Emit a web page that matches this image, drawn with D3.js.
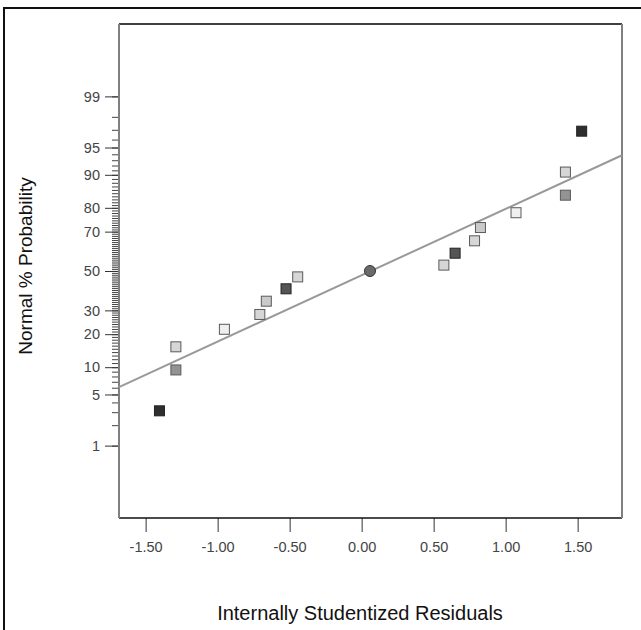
<!DOCTYPE html>
<html><head><meta charset="utf-8">
<script src="https://cdn.jsdelivr.net/npm/d3@7"></script>
<style>body{margin:0;background:#fff;} svg{display:block;font-family:Arial,"Liberation Sans",sans-serif;}</style>
</head><body><svg id="c" width="641" height="630"></svg>
<script>
// ---- data ----
const residuals = [-1.404,-1.290,-1.290,-0.953,-0.707,-0.662,-0.525,-0.444,0.571,0.649,0.784,0.825,1.072,1.415,1.415,1.528];
const probabilities = [3.125,9.375,15.625,21.875,28.125,34.375,40.625,46.875,53.125,59.375,65.625,71.875,78.125,84.375,90.625,96.875];
const levels = [0,3,5,6,5,4,1,5,5,1,5,4,6,3,5,0];
const centerX = [0.058];
const centerP = [50];
const fitX = [-1.685, 1.808];
const fitP = [6.1, 93.85];
const xTicks = [-1.5,-1.0,-0.5,0.0,0.5,1.0,1.5];
const yMajorTicks = [1,5,10,20,30,50,70,80,90,95,99];
const yMinorTicks = d3.range(1,100);
const xDomain = [-1.685, 1.808];
const pDomain = [0.05, 99.95];

function probit(p){
 const a=[-3.969683028665376e+01,2.209460984245205e+02,-2.759285104469687e+02,1.383577518672690e+02,-3.066479806614716e+01,2.506628277459239e+00];
 const b=[-5.447609879822406e+01,1.615858368580409e+02,-1.556989798598866e+02,6.680131188771972e+01,-1.328068155288572e+01];
 const c=[-7.784894002430293e-03,-3.223964580411365e-01,-2.400758277161838e+00,-2.549732539343734e+00,4.374664141464968e+00,2.938163982698783e+00];
 const d=[7.784695709041462e-03,3.224671290700398e-01,2.445134137142996e+00,3.754408661907416e+00];
 const pl=0.02425, ph=1-pl; let q,r;
 if(p<pl){q=Math.sqrt(-2*Math.log(p));return (((((c[0]*q+c[1])*q+c[2])*q+c[3])*q+c[4])*q+c[5])/((((d[0]*q+d[1])*q+d[2])*q+d[3])*q+1);}
 if(p>ph){q=Math.sqrt(-2*Math.log(1-p));return -(((((c[0]*q+c[1])*q+c[2])*q+c[3])*q+c[4])*q+c[5])/((((d[0]*q+d[1])*q+d[2])*q+d[3])*q+1);}
 q=p-0.5;r=q*q;return (((((a[0]*r+a[1])*r+a[2])*r+a[3])*r+a[4])*r+a[5])*q/(((((b[0]*r+b[1])*r+b[2])*r+b[3])*r+b[4])*r+1);
}
const z = p => probit(p/100);

const L=119, R=622, T=24, B=518;
const svg = d3.select("#c");
const x = d3.scaleLinear().domain(xDomain).range([L,R]);
const y = d3.scaleLinear().domain(pDomain.map(z)).range([B,T]);
const shade = d3.scaleOrdinal().domain([0,1,2,3,4,5,6]).range(["#2e2e2e","#555555","#777777","#939393","#cacaca","#d6d6d6","#efefef"]);

// outer border
svg.append("rect").attr("x",4).attr("y",8).attr("width",660).attr("height",640)
  .attr("fill","none").attr("stroke","#111").attr("stroke-width",2);

// y axis minor ticks
svg.append("g").attr("transform",`translate(${L},0)`)
  .call(d3.axisLeft(y).tickValues(yMinorTicks.map(z)).tickSize(7).tickFormat(""))
  .call(g=>{g.select(".domain").remove(); g.selectAll("line").attr("stroke","#444");});
// y axis major ticks
svg.append("g").attr("transform",`translate(${L},0)`)
  .call(d3.axisLeft(y).tickValues(yMajorTicks.map(z)).tickSize(14).tickPadding(5)
     .tickFormat((d,i)=>String(yMajorTicks[i])))
  .call(g=>{g.select(".domain").remove(); g.selectAll("line").attr("stroke","#333");
     g.selectAll("text").attr("font-size",14.5).attr("fill","#444").attr("font-family","Arial, 'Liberation Sans', sans-serif");});

// x axis
svg.append("g").attr("transform",`translate(0,${B})`)
  .call(d3.axisBottom(x).tickValues(xTicks).tickSize(14).tickPadding(10).tickFormat(d=>d.toFixed(2)))
  .call(g=>{g.select(".domain").remove(); g.selectAll("line").attr("stroke","#333");
     g.selectAll("text").attr("font-size",14.5).attr("fill","#444").attr("font-family","Arial, 'Liberation Sans', sans-serif");});

// frame
svg.append("line").attr("x1",L).attr("x2",R).attr("y1",T).attr("y2",T).attr("stroke","#000").attr("stroke-width",1.5);
svg.append("line").attr("x1",L).attr("x2",R).attr("y1",B).attr("y2",B).attr("stroke","#111").attr("stroke-width",1.5);
svg.append("line").attr("x1",L).attr("x2",L).attr("y1",T).attr("y2",B).attr("stroke","#808080").attr("stroke-width",2);
svg.append("line").attr("x1",R).attr("x2",R).attr("y1",T).attr("y2",B).attr("stroke","#808080").attr("stroke-width",2);

// fit line
svg.append("path")
  .datum(fitX.map((v,i)=>[v,fitP[i]]))
  .attr("d", d3.line().x(d=>x(d[0])).y(d=>y(z(d[1]))))
  .attr("stroke","#999").attr("stroke-width",2).attr("fill","none");

// points
const pts = residuals.map((v,i)=>({x:v,p:probabilities[i],l:levels[i]}));
svg.append("g").selectAll("rect").data(pts).join("rect")
  .attr("x",d=>x(d.x)-5).attr("y",d=>y(z(d.p))-5).attr("width",10).attr("height",10)
  .attr("fill",d=>shade(d.l)).attr("stroke",d=>d.l<2?"#222":"#5a5a5a").attr("stroke-width",1);
svg.append("g").selectAll("circle").data(centerX.map((v,i)=>({x:v,p:centerP[i]}))).join("circle")
  .attr("cx",d=>x(d.x)).attr("cy",d=>y(z(d.p))).attr("r",5.5)
  .attr("fill","#6a6a6a").attr("stroke","#333").attr("stroke-width",1);

// titles
svg.append("text").attr("x",360).attr("y",620).attr("text-anchor","middle")
  .attr("font-size",20).attr("fill","#111").text("Internally Studentized Residuals");
svg.append("text").attr("transform","translate(32,266) rotate(-90)").attr("text-anchor","middle")
  .attr("font-size",19).attr("fill","#111").text("Normal % Probability");
</script></body></html>
